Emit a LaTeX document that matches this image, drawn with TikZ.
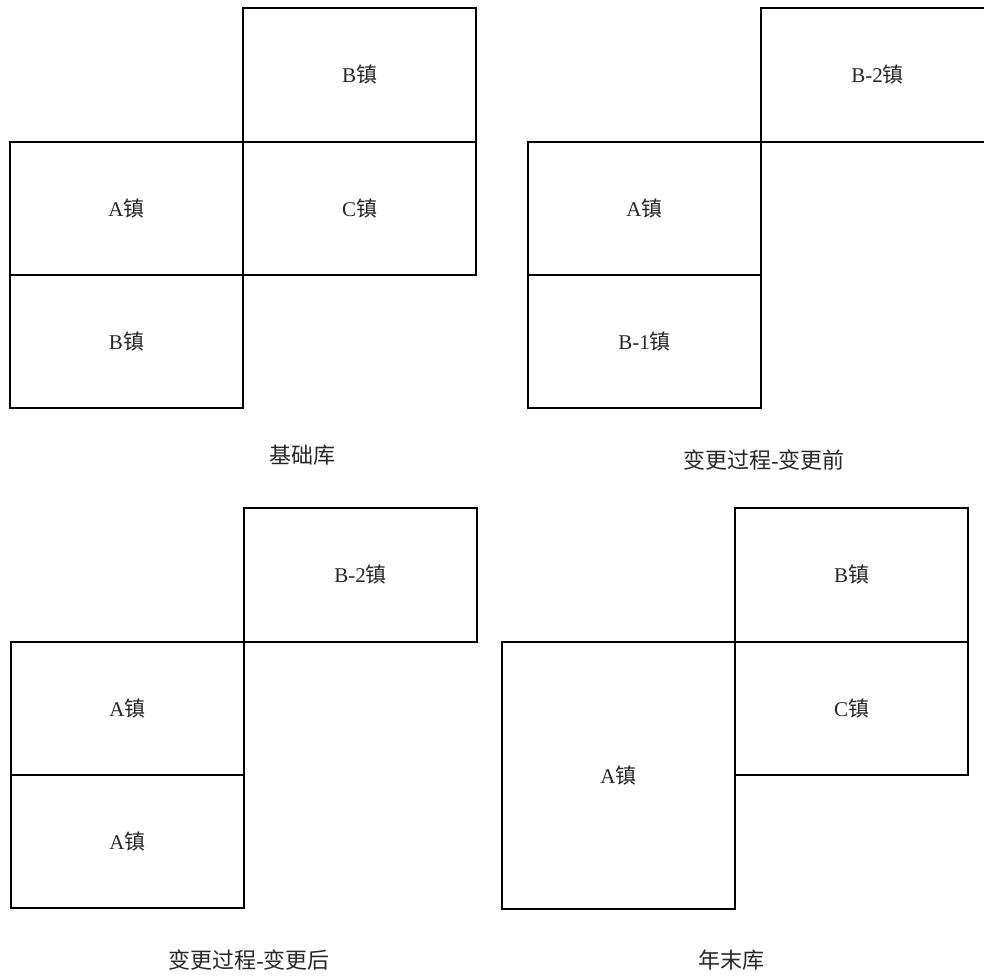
\documentclass[tikz,border=0pt]{standalone}
\usepackage{fontspec}
\setmainfont{Liberation Serif}
\newfontfamily\cjk{Noto Sans CJK SC}
\newcommand{\zh}[1]{{\cjk #1}}
\begin{document}
\begin{tikzpicture}[x=1pt,y=-1pt,
  box/.style={draw, line width=2pt, minimum width=233pt, minimum height=133.5pt, inner sep=0pt,
    text=black!85, font=\fontsize{21}{24}\selectfont},
  tallbox/.style={box, minimum height=267pt},
  captext/.style={inner sep=0pt, text=black!85, font=\fontsize{22}{26}\selectfont}]
\useasboundingbox (0,0) rectangle (984,976);
\clip (0,0) rectangle (984,976);
% Panel 1
\node[box] (p1b)  at (359.5,75)    {B\zh{镇}};
\node[box] (p1a)  at (126.5,208.5) {A\zh{镇}};
\node[box] (p1c)  at (359.5,208.5) {C\zh{镇}};
\node[box] (p1bb) at (126.5,341.5) {B\zh{镇}};
\node[captext] (p1cap) at (302,455) {\zh{基础库}};
% Panel 2
\node[box] (p2b2) at (877.5,75)    {B-2\zh{镇}};
\node[box] (p2a)  at (644.5,208.5) {A\zh{镇}};
\node[box] (p2b1) at (644.5,341.5) {B-1\zh{镇}};
\node[captext] (p2cap) at (764,460) {\zh{变更过程}-\zh{变更前}};
% Panel 3
\node[box] (p3b2) at (360.5,575)   {B-2\zh{镇}};
\node[box] (p3a1) at (127.5,708.5) {A\zh{镇}};
\node[box] (p3a2) at (127.5,841.5) {A\zh{镇}};
\node[captext] (p3cap) at (249,960) {\zh{变更过程}-\zh{变更后}};
% Panel 4
\node[box] (p4b) at (851.5,575)   {B\zh{镇}};
\node[box] (p4c) at (851.5,708.5) {C\zh{镇}};
\node[tallbox] (p4a) at (618.5,775.5) {A\zh{镇}};
\node[captext] (p4cap) at (731,960) {\zh{年末库}};
\end{tikzpicture}
\end{document}
